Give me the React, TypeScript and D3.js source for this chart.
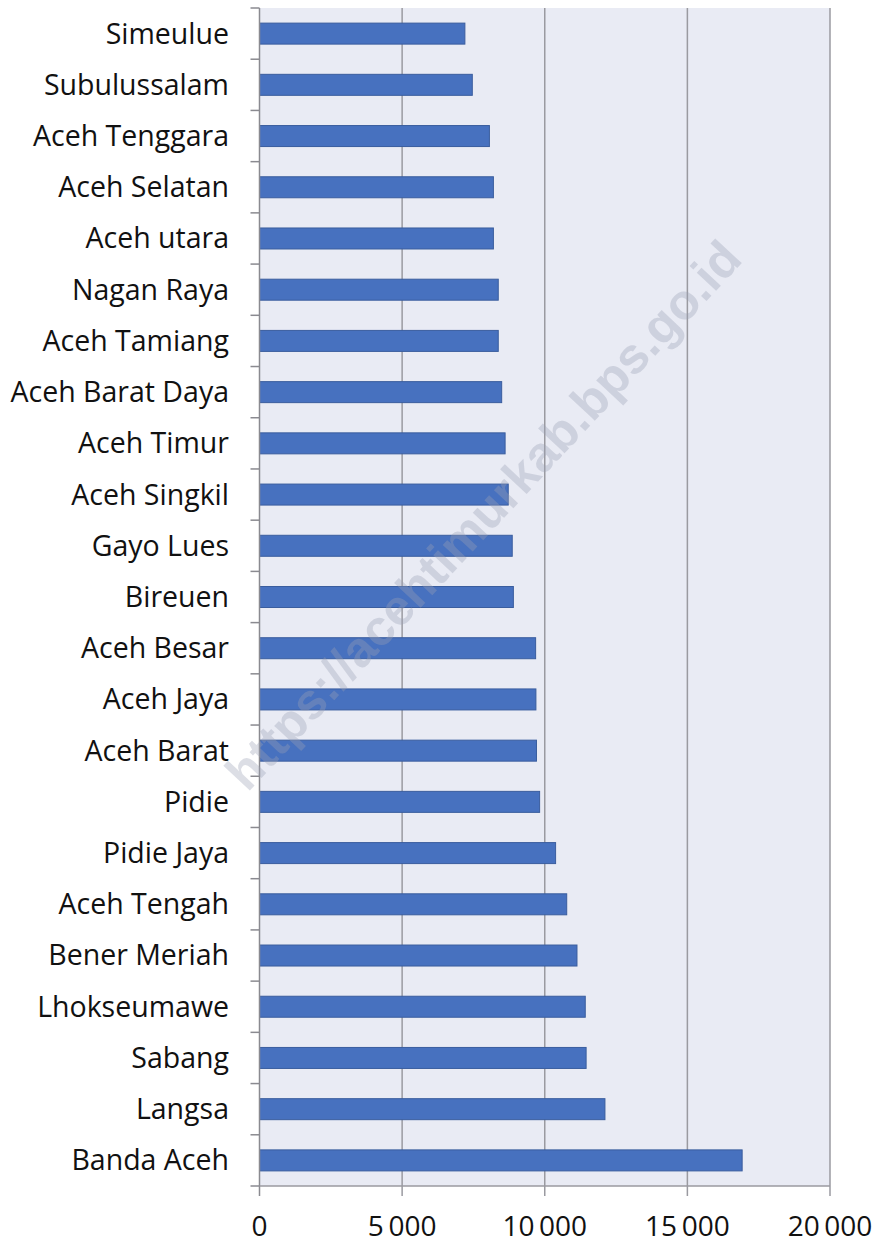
import React from "react";
import * as d3 from "d3";

const categories = [
  "Simeulue", "Subulussalam", "Aceh Tenggara", "Aceh Selatan", "Aceh utara",
  "Nagan Raya", "Aceh Tamiang", "Aceh Barat Daya", "Aceh Timur", "Aceh Singkil",
  "Gayo Lues", "Bireuen", "Aceh Besar", "Aceh Jaya", "Aceh Barat", "Pidie",
  "Pidie Jaya", "Aceh Tengah", "Bener Meriah", "Lhokseumawe", "Sabang",
  "Langsa", "Banda Aceh",
];
const values = [
  7200, 7460, 8060, 8200, 8200,
  8370, 8370, 8490, 8610, 8720,
  8860, 8900, 9680, 9690, 9710, 9820,
  10380, 10770, 11130, 11420, 11450,
  12110, 16920,
];
const xTicks = [0, 5000, 10000, 15000, 20000];
const watermark = "https://acehtimurkab.bps.go.id";

const W = 880, H = 1244;
const left = 259.5, right = 830, top = 8, bottom = 1186;
const FONT = "'Open Sans', 'Noto Sans', sans-serif";

export default function App() {
  const x = d3.scaleLinear().domain([0, 20000]).range([left, right]);
  const y = d3.scaleBand().domain(categories).range([top, bottom]).paddingInner(0.59).paddingOuter(0.295);
  const step = y.step();
  const boundaries = d3.range(categories.length + 1).map((i) => top + i * step);
  const fmt = (v: number) => (v === 0 ? "0" : d3.format(",")(v).replace(/,/g, "\u2009"));

  return (
    <svg width={W} height={H} style={{ position: "absolute", left: 0, top: 0, background: "#fff" }}>
      <rect x={left} y={top} width={right - left} height={bottom - top} fill="#e9ebf4" />
      {xTicks.slice(1).map((t) => (
        <line key={t} x1={x(t)} x2={x(t)} y1={top} y2={bottom + 10} stroke="#9a9aa0" strokeWidth={1.5} />
      ))}
      {categories.map((c, i) => (
        <rect key={c} x={x(0)} y={y(c)} width={x(values[i]) - x(0)} height={y.bandwidth()}
          fill="#4771bf" stroke="#3a5d9e" strokeWidth={1} />
      ))}
      <line x1={left} x2={left} y1={top} y2={bottom + 10} stroke="#8a8a90" strokeWidth={1.5} />
      <line x1={left} x2={right} y1={bottom} y2={bottom} stroke="#9a9aa0" strokeWidth={1.5} />
      {boundaries.map((b, i) => (
        <line key={i} x1={left - 9} x2={left} y1={b} y2={b} stroke="#8a8a90" strokeWidth={1.5} />
      ))}
      {categories.map((c) => (
        <text key={c} x={229} y={(y(c) as number) + y.bandwidth() / 2} dy="0.35em" textAnchor="end"
          fontFamily={FONT} fontSize={28.5} fill="#111">{c}</text>
      ))}
      {xTicks.map((t) => (
        <text key={t} x={x(t)} y={1236} textAnchor="middle" fontFamily={FONT} fontSize={28} fill="#111">{fmt(t)}</text>
      ))}
      <text x={483} y={515} textAnchor="middle" dy="0.35em" transform="rotate(-47 483 515)"
        fontFamily="'Liberation Sans', Arial, sans-serif" fontWeight="bold" fontSize={50}
        fill="#9aa0b4" fillOpacity={0.35}>{watermark}</text>
    </svg>
  );
}
